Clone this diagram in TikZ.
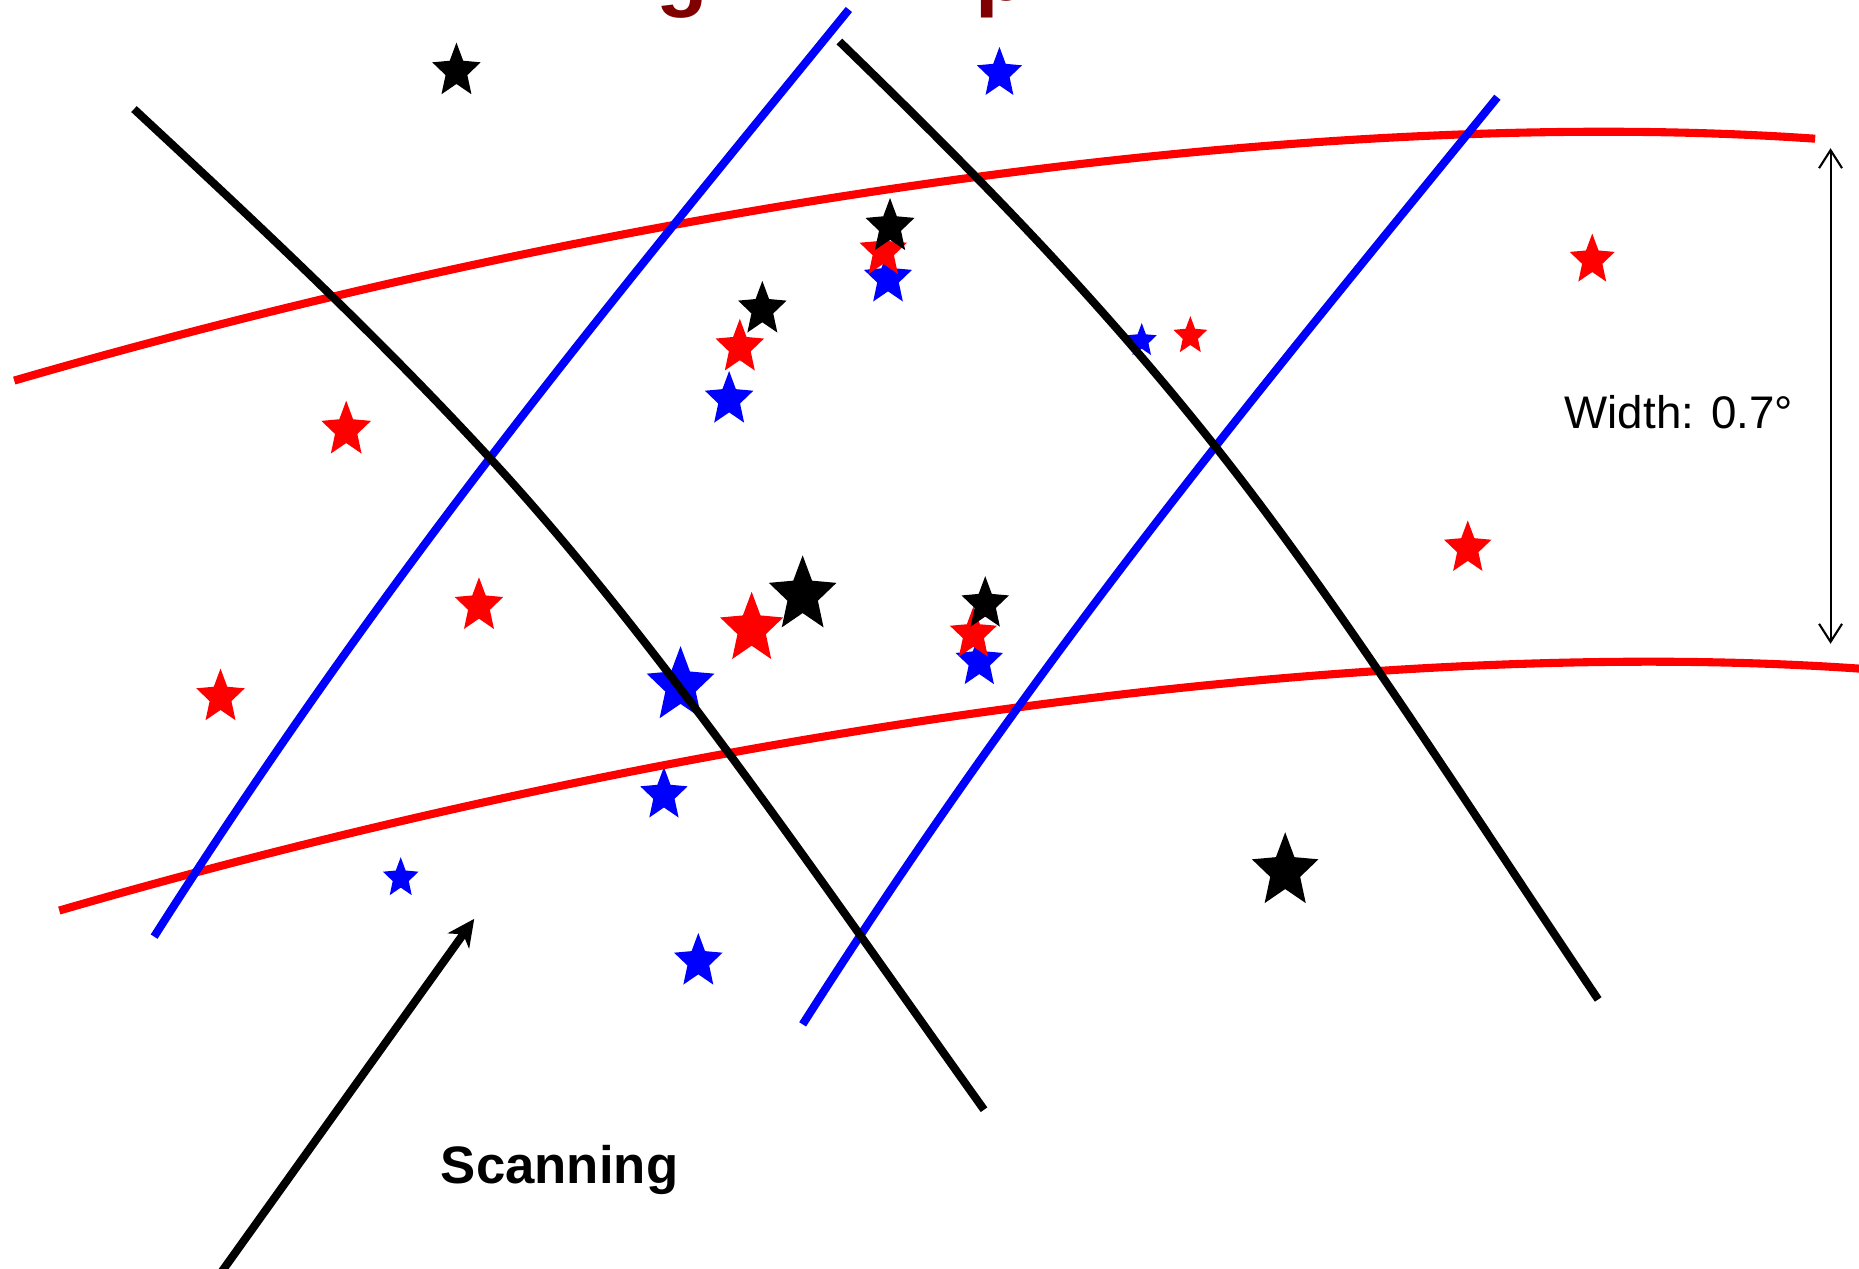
\documentclass[tikz,border=0pt]{standalone}
\usepackage{fontspec}
\setmainfont{Liberation Sans}
\usetikzlibrary{arrows.meta}
\definecolor{titlered}{RGB}{128,0,0}
\definecolor{pblue}{RGB}{0,0,255}
\definecolor{pred}{RGB}{255,0,0}
% star marker: name, colour, cx, cy, radius
\newcommand\pstarmark[5]{%
  \coordinate (#1) at (#3,#4);
  \fill[#2, shift={(#3,#4)}, xscale=#5, yscale=-1.12*#5]
    (90:1) -- (126:0.45) -- (162:1) -- (198:0.45) -- (234:1) -- (270:0.45)
    -- (306:1) -- (342:0.45) -- (18:1) -- (54:0.45) -- cycle;}
\begin{document}
\begin{tikzpicture}[x=0.011856cm, y=-0.011856cm,
  redline/.style={draw=pred, line width=2.3pt},
  blueline/.style={draw=pblue, line width=2.3pt},
  blackline/.style={draw=black, line width=2.3pt},
  frag/.style={anchor=base west, inner sep=0pt, text=titlered, font=\fontsize{24}{28}\selectfont\bfseries}]
\useasboundingbox (0,0) rectangle (1568,1070);

% clipped title fragments
\node[frag] (tg) at (553,0) {g};
\node[frag] (tp) at (822,0) {p};

% blue stars
\pstarmark{b1}{pblue}{843}{62}{20}
\pstarmark{b2}{pblue}{749}{235}{21.3}
\pstarmark{b3}{pblue}{615}{337}{21.5}
\pstarmark{b4}{pblue}{963}{287.4}{13.3}
\pstarmark{b5}{pblue}{574}{578.6}{30}
\pstarmark{b6}{pblue}{826}{558}{21}
\pstarmark{b7}{pblue}{560}{670.5}{21}
\pstarmark{b8}{pblue}{338}{740.7}{15.8}
\pstarmark{b9}{pblue}{589}{811}{21.5}

% red stars
\pstarmark{r1}{pred}{745}{212}{21}
\pstarmark{r2}{pred}{624}{293}{21.5}
\pstarmark{r3}{pred}{292}{362.6}{22}
\pstarmark{r4}{pred}{1004}{283.4}{15}
\pstarmark{r5}{pred}{1343}{219.4}{20}
\pstarmark{r6}{pred}{1238}{462.5}{21}
\pstarmark{r7}{pred}{634}{530.5}{28}
\pstarmark{r8}{pred}{821}{535}{20.8}
\pstarmark{r9}{pred}{404}{511}{21.5}
\pstarmark{r10}{pred}{186}{588}{21.5}

% black stars
\pstarmark{k1}{black}{385}{60}{21.5}
\pstarmark{k2}{black}{750.7}{191.3}{21.7}
\pstarmark{k3}{black}{643}{261}{21.5}
\pstarmark{k4}{black}{677}{502}{30}
\pstarmark{k5}{black}{831}{509.5}{21}
\pstarmark{k6}{black}{1084}{735}{29.5}

% red curves
\draw[redline] (12,321) .. controls (562,161.5) and (1131,89) .. (1531,117);
\draw[redline] (50,768) .. controls (600,608.5) and (1169,536) .. (1569,564);

% blue lines
\draw[blueline] (716,8) .. controls (516,254) and (330,476) .. (130,790);
\draw[blueline] (1263,82) .. controls (1063,328) and (877,550) .. (677,864);

% black lines
\draw[blackline] (113,92) .. controls (212,184) and (311.8,276.8) .. (410.8,383.8)
                 .. controls (550.8,534.8) and (690,740) .. (830,936);
\draw[blackline] (708,35) .. controls (813,137) and (918,242) .. (1023,374)
                 .. controls (1131,510) and (1240,683) .. (1348,843);

% width arrow
\coordinate (wt) at (1544,125);
\coordinate (wb) at (1544,543);
\draw[line width=0.6pt, {Straight Barb[length=0.18cm,width=0.23cm]}-{Straight Barb[length=0.18cm,width=0.23cm]}] (wt) -- (wb);
\node[anchor=base, inner sep=0pt, font=\fontsize{13}{15}\selectfont] (wl) at (1416,361) {Width: 0.7°};

% scanning arrow
\coordinate (sa) at (186,1074);
\coordinate (sb) at (400,775);
\draw[line width=2.3pt, -{Stealth[length=0.27cm,width=0.26cm,inset=0.08cm]}] (sa) -- (sb);
\node[anchor=base, inner sep=0pt, font=\fontsize{15}{18}\selectfont\bfseries] (sl) at (472,998) {Scanning};
\end{tikzpicture}
\end{document}
